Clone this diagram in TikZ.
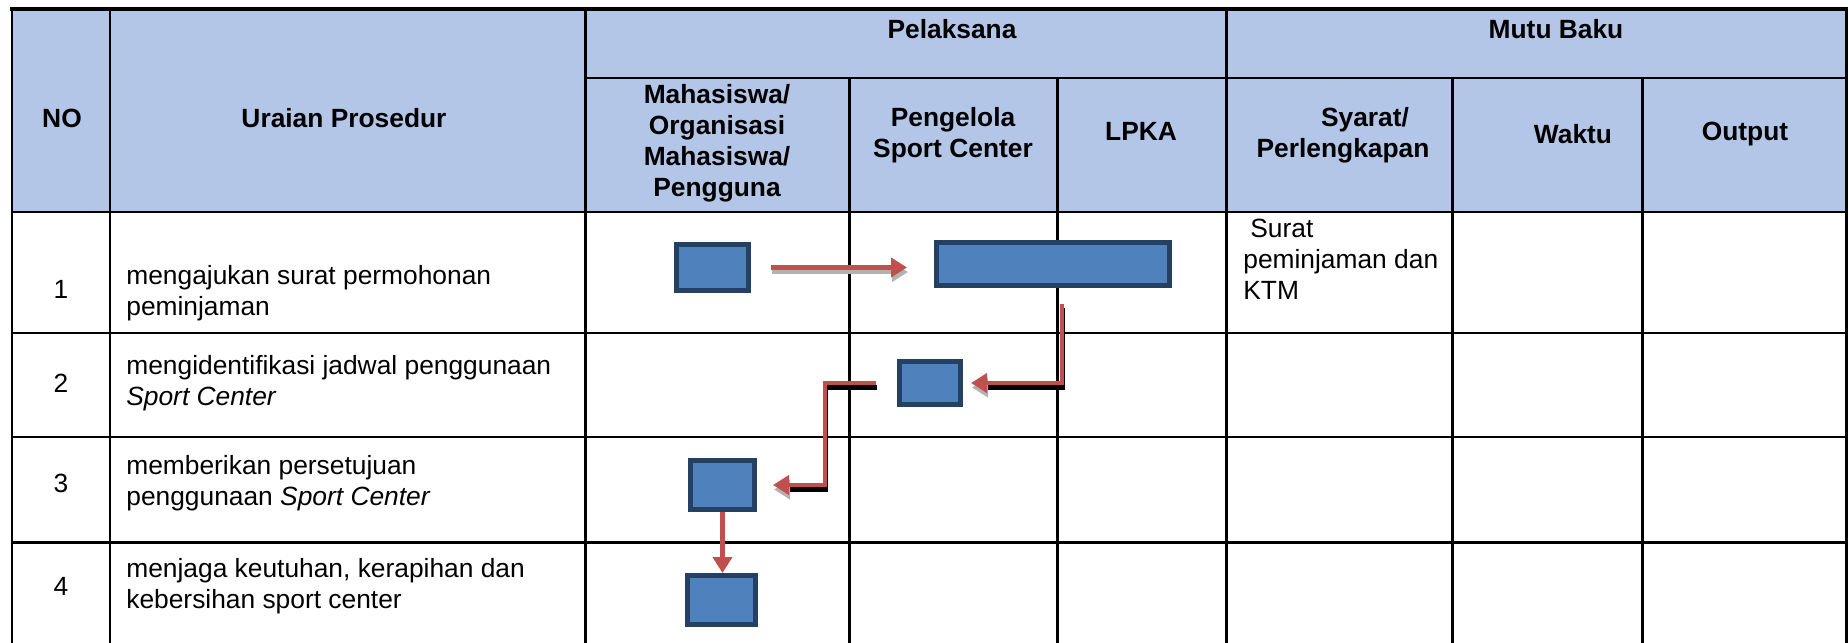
\documentclass[tikz,border=0pt]{standalone}
\usepackage{fontspec}
\setmainfont{Liberation Sans}
\usetikzlibrary{arrows.meta,calc}
\definecolor{headblue}{RGB}{180,198,231}
\definecolor{boxblue}{RGB}{79,129,189}
\definecolor{boxnavy}{RGB}{36,64,98}
\definecolor{flowred}{RGB}{192,80,77}

\begin{document}
\begin{tikzpicture}[x=0.02cm, y=-0.02cm,
      font=\fontsize{15}{17.6}\selectfont,
      grid/.style={line width=1.7pt, line cap=rect},
      head/.style={font=\fontsize{15}{17.6}\selectfont\bfseries, align=center, inner sep=0pt},
      cell/.style={align=left, anchor=west, inner sep=0pt},
      num/.style={inner sep=0pt},
      actbox/.style={draw=boxnavy, fill=boxblue, line width=0.1cm, inner sep=0pt},
      flow/.style={draw=flowred, line width=0.09cm,
                   -{Triangle[length=0.32cm, width=0.38cm]}},
      flowshade/.style={draw=black, line width=0.09cm,
                        transform canvas={xshift=0.02cm, yshift=-0.09cm},
                        -{Triangle[length=0.32cm, width=0.38cm, color=gray!60]}}
    ]
    \useasboundingbox (0,0) rectangle (1848,642);

    % table
    \fill[headblue] (12,9) rectangle (1846,212);
    \foreach \yy in {212,333,437,542}
      \draw[grid] (12,\yy) -- (1846,\yy);
    \draw[grid] (585,78) -- (1846,78);
    \foreach \xx in {12,110,585,1226,1846}
      \draw[grid] (\xx,9) -- (\xx,642);
    \foreach \xx in {849,1057,1452,1642}
      \draw[grid] (\xx,78) -- (\xx,642);
    \draw[grid, line width=2.2pt] (12,9) -- (1846,9);

    \node[head] (hno) at (62,118) {NO};
    \node[head] (hura) at (344,118) {Uraian Prosedur};
    \node[head] (hpel) at (952,29) {Pelaksana};
    \node[head] (hmutu) at (1556,29) {Mutu Baku};
    \node[head] (hmhs) at (717,143) {Mahasiswa/\\Organisasi\\Mahasiswa/\\Pengguna};
    \node[head] (hpsc) at (953,135) {Pengelola\\Sport Center};
    \node[head] (hlpka) at (1141,131) {LPKA};
    \node[head] (hsyarat) at (1343,135) {\hspace*{0.88cm}Syarat/\\Perlengkapan};
    \node[head] (hwaktu) at (1573,134) {Waktu};
    \node[head] (houtput) at (1745,134) {Output};

    \node[num] (n1) at (61,289) {1};
    \node[num] (n2) at (61,383) {2};
    \node[num] (n3) at (61,483) {3};
    \node[num] (n4) at (61,586) {4};
    \node[cell] (u1) at (126,293) {mengajukan surat permohonan\\peminjaman};
    \node[cell] (u2) at (126,383) {mengidentifikasi jadwal penggunaan\\\textit{Sport Center}};
    \node[cell] (u3) at (126,483) {memberikan persetujuan\\penggunaan \textit{Sport Center}};
    \node[cell] (u4) at (126,586) {menjaga keutuhan, kerapihan dan\\kebersihan sport center};
    \node[cell] (syarat1) at (1243,259) {\hspace*{0.14cm}Surat\\peminjaman dan\\KTM};

    % flow
    \node[actbox, minimum width=1.44cm, minimum height=0.92cm] (boxA) at (712.5,267.5) {};
    \node[actbox, minimum width=4.66cm, minimum height=0.86cm] (boxB) at (1053,264) {};
    \node[actbox, minimum width=1.22cm, minimum height=0.86cm] (boxC) at (930,383) {};
    \node[actbox, minimum width=1.28cm, minimum height=0.98cm] (boxD) at (722.5,485) {};
    \node[actbox, minimum width=1.36cm, minimum height=0.98cm] (boxE) at (721.5,600) {};

    \draw[flowshade, draw=gray!60] ($(boxA.east)+(20,0)$) -- ($(boxB.west |- boxA.east)+(-27,0)$);
    \draw[flow] ($(boxA.east)+(20,0)$) -- ($(boxB.west |- boxA.east)+(-27,0)$);

    \draw[flowshade] ($(boxB.south)+(9,16)$) |- ($(boxC.east)+(8,0)$);
    \draw[flow] ($(boxB.south)+(9,16)$) |- ($(boxC.east)+(8,0)$);

    \draw[flowshade] ($(boxC.west)+(-21,0)$) -- ($(boxC.west)+(-72,0)$) |- ($(boxD.east)+(16,0)$);
    \draw[flow] ($(boxC.west)+(-21,0)$) -- ($(boxC.west)+(-72,0)$) |- ($(boxD.east)+(16,0)$);

    \draw[flow] (boxD.south) -- (boxD.south |- boxE.north);
  \end{tikzpicture}
\end{document}
